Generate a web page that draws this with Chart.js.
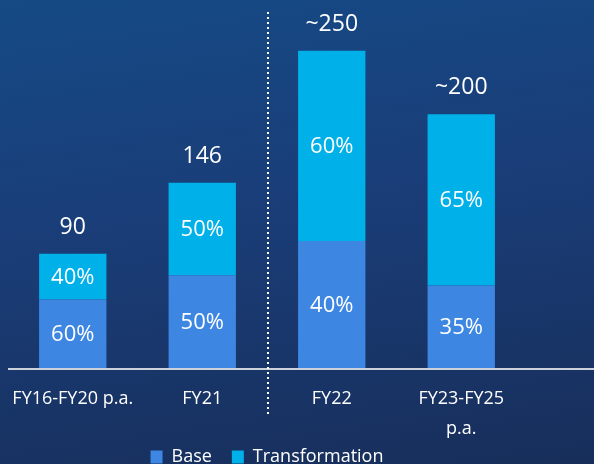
<!DOCTYPE html>
<html>
<head>
<meta charset="utf-8">
<script src="https://cdn.jsdelivr.net/npm/chart.js@4.4.1/dist/chart.umd.min.js"></script>
<style>
  html, body { margin: 0; padding: 0; }
  body {
    width: 594px;
    height: 464px;
    overflow: hidden;
    background: linear-gradient(172deg, #154a85 0%, #1a3d78 45%, #172e5a 100%);
  }
  canvas { display: block; }
</style>
</head>
<body>
<canvas id="chart" width="594" height="476"></canvas>
<script>
const categories = ['FY16-FY20 p.a.', 'FY21', 'FY22', ['FY23-FY25', 'p.a.']];
const baseValues = [54, 73, 100, 65];
const transformationValues = [36, 73, 150, 135];
const totalLabels = ['90', '146', '~250', '~200'];
const basePercents = ['60%', '50%', '40%', '35%'];
const transformationPercents = ['40%', '50%', '60%', '65%'];

const FONT = '"Open Sans", "Noto Sans", sans-serif';

// white labels inside each segment and totals above bars
const barLabels = {
  id: 'barLabels',
  afterDatasetsDraw(chart) {
    const ctx = chart.ctx;
    ctx.save();
    ctx.fillStyle = '#ffffff';
    ctx.textAlign = 'center';
    ctx.textBaseline = 'middle';
    ctx.font = `22px ${FONT}`;
    const percents = [basePercents, transformationPercents];
    chart.data.datasets.forEach((ds, di) => {
      chart.getDatasetMeta(di).data.forEach((bar, i) => {
        const mid = (bar.y + bar.base) / 2;
        ctx.fillText(percents[di][i], bar.x, mid + 1);
      });
    });
    ctx.font = `23px ${FONT}`;
    ctx.textBaseline = 'alphabetic';
    const top = chart.getDatasetMeta(1).data;
    top.forEach((bar, i) => {
      ctx.fillText(totalLabels[i], bar.x, bar.y - 20);
    });
    ctx.restore();
  },
};

// baseline across the full width and dotted divider between actuals and outlook
const guides = {
  id: 'guides',
  afterLayout(chart) {
    // x axis is squeezed so the legend sits close; let its labels draw past it
    chart.scales.x.bottom = chart.height;
  },
  afterDraw(chart) {
    const ctx = chart.ctx;
    const x = chart.scales.x;
    const y0 = chart.scales.y.getPixelForValue(0);
    ctx.save();
    ctx.strokeStyle = '#ccd1da';
    ctx.lineWidth = 2;
    ctx.beginPath();
    ctx.moveTo(8, y0 + 1);
    ctx.lineTo(chart.width, y0 + 1);
    ctx.stroke();

    const divX = Math.round((x.getPixelForValue(1) + x.getPixelForValue(2)) / 2) + 1;
    ctx.strokeStyle = '#ffffff';
    ctx.lineWidth = 2;
    ctx.setLineDash([2, 3]);
    ctx.beginPath();
    ctx.moveTo(divX, 12);
    ctx.lineTo(divX, 416);
    ctx.stroke();
    ctx.restore();
  },
};

new Chart(document.getElementById('chart'), {
  type: 'bar',
  data: {
    labels: categories,
    datasets: [
      {
        label: 'Base',
        data: baseValues,
        backgroundColor: '#3d87e3',
        borderWidth: 0,
      },
      {
        label: 'Transformation',
        data: transformationValues,
        backgroundColor: '#00b0e8',
        borderWidth: 0,
      },
    ],
  },
  options: {
    responsive: false,
    animation: false,
    devicePixelRatio: 1,
    layout: { padding: { left: 8, right: 68, top: 0, bottom: 0 } },
    datasets: {
      bar: { barPercentage: 0.52, categoryPercentage: 1 },
    },
    plugins: {
      legend: {
        position: 'bottom',
        labels: {
          color: '#ffffff',
          font: { family: FONT, size: 18 },
          boxWidth: 12,
          boxHeight: 13,
          padding: 20,
        },
      },
      tooltip: { enabled: false },
    },
    scales: {
      x: {
        stacked: true,
        grid: { display: false },
        border: { display: false },
        ticks: {
          color: '#ffffff',
          font: { family: FONT, size: 18, lineHeight: 1.65 },
          padding: 8,
          maxRotation: 0,
          autoSkip: false,
        },
        afterFit(scale) {
          scale.height = 60;
        },
      },
      y: {
        stacked: true,
        display: false,
        min: 0,
        max: 290,
      },
    },
  },
  plugins: [barLabels, guides],
});
</script>
</body>
</html>
